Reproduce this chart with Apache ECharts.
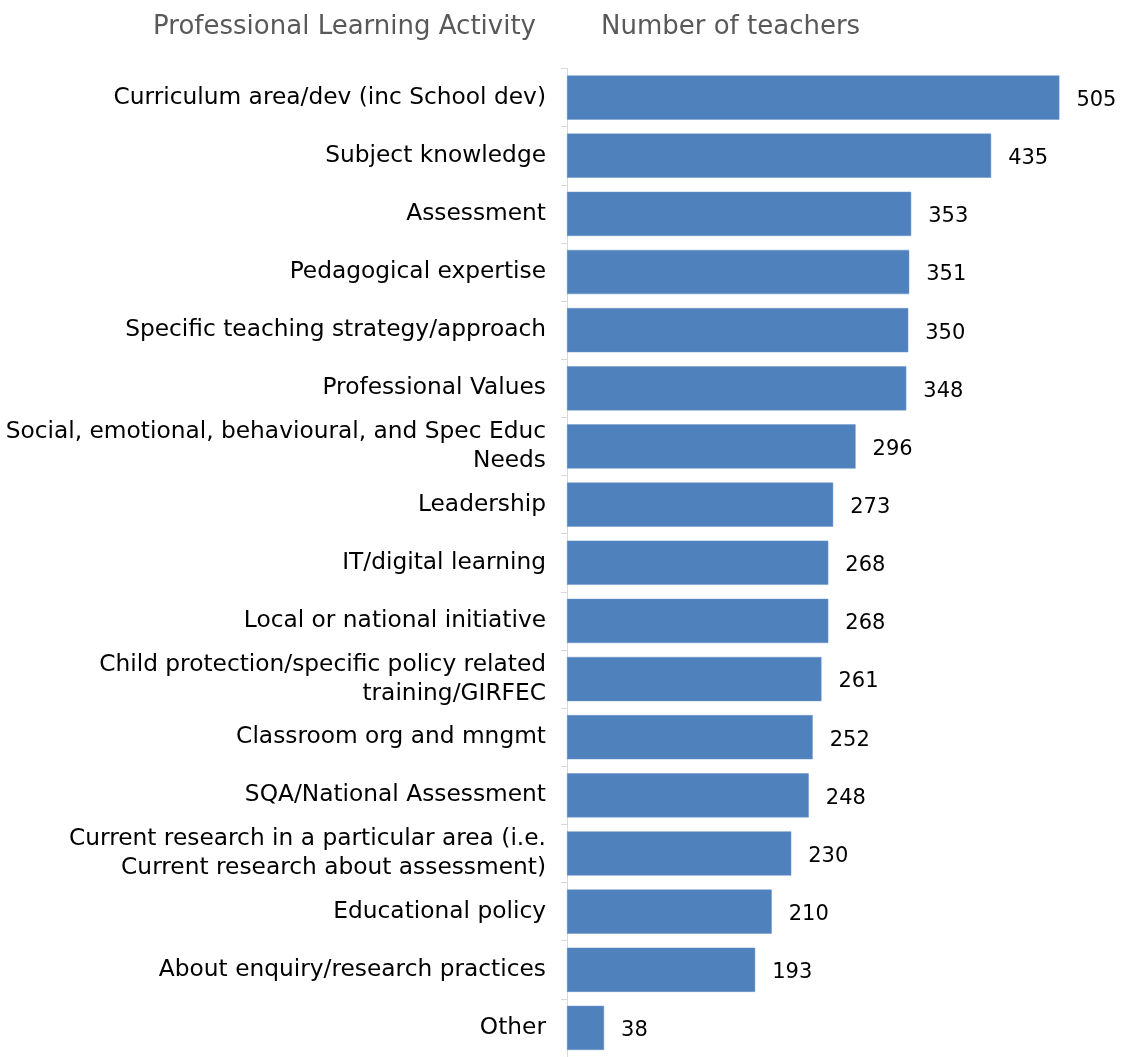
<!DOCTYPE html>
<html><head><meta charset="utf-8">
<script src="https://cdn.jsdelivr.net/npm/echarts@6/dist/echarts.min.js"></script>
<style>html,body{margin:0;padding:0;background:#fff}#c{width:1122px;height:1057px}</style>
</head><body><div id="c"></div>
<script>
const categories = [
  "Curriculum area/dev (inc School dev)",
  "Subject knowledge",
  "Assessment",
  "Pedagogical expertise",
  "Specific teaching strategy/approach",
  "Professional Values",
  "Social, emotional, behavioural, and Spec Educ\nNeeds",
  "Leadership",
  "IT/digital learning",
  "Local or national initiative",
  "Child protection/specific policy related\ntraining/GIRFEC",
  "Classroom org and mngmt",
  "SQA/National Assessment",
  "Current research in a particular area (i.e.\nCurrent research about assessment)",
  "Educational policy",
  "About enquiry/research practices",
  "Other"
];
const teachers = [505,435,353,351,350,348,296,273,268,268,261,252,248,230,210,193,38];
const titleLeft = "Professional Learning Activity";
const titleRight = "Number of teachers";

const chart = echarts.init(document.getElementById('c'), null, {renderer:'canvas'});
chart.setOption({
  animation:false,
  title:[
    {text:titleLeft, right:1122-541, top:9, textStyle:{fontFamily:'DejaVu Sans', fontWeight:'normal', fontSize:26, color:'#595959'}},
    {text:titleRight, left:596, top:9, textStyle:{fontFamily:'DejaVu Sans', fontWeight:'normal', fontSize:26, color:'#595959'}}
  ],
  grid:{left:567, top:68.5, width:546, height:1002, containLabel:false},
  xAxis:{type:'value', min:0, max:560, show:false},
  yAxis:{type:'category', data:categories, inverse:true,
    axisLine:{show:true, lineStyle:{color:'#d9d9d9', width:1}},
    axisTick:{show:true, length:6, lineStyle:{color:'#d9d9d9'}},
    axisLabel:{margin:21, fontFamily:'DejaVu Sans', fontSize:23.3, color:'#000', lineHeight:29, align:'right'}
  },
  series:[{type:'bar', data:teachers, barCategoryGap:'24%',
    itemStyle:{color:'#4f81bd', borderColor:'#6a95c8', borderWidth:0.5},
    label:{show:true, position:'right', distance:17, fontFamily:'DejaVu Sans', fontSize:21, color:'#000', offset:[0,3]}
  }]
});
</script></body></html>
